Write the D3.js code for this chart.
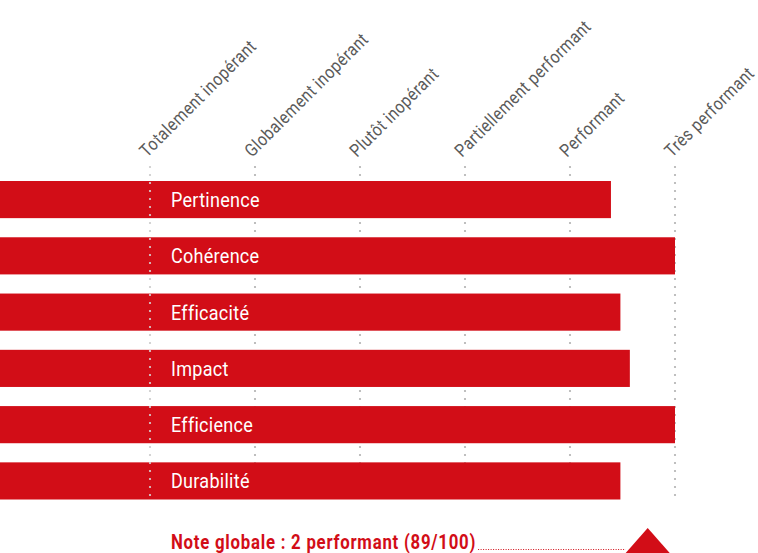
<!DOCTYPE html>
<html><head><meta charset="utf-8">
<script src="https://cdn.jsdelivr.net/npm/d3@7"></script>
<style>
html,body{margin:0;padding:0;background:#fff;}
svg text{font-family:Roboto,"Noto Sans",sans-serif;}
</style></head>
<body>
<svg id="chart" width="758" height="553"></svg>
<script>
const levels = ["Totalement inopérant","Globalement inopérant","Plutôt inopérant","Partiellement performant","Performant","Très performant"];
const criteria = ["Pertinence","Cohérence","Efficacité","Impact","Efficience","Durabilité"];
const scores = [4.39, 5.0, 4.48, 4.57, 5.0, 4.48];
const noteLabel = "Note globale : 2 performant (89/100)";
const noteMarker = 4.74;

const svg = d3.select("#chart");
const red = "#d20d17";
const narrow = 0.86;
const x = d3.scaleLinear().domain([0, 5]).range([150, 675]);
const y = d3.scaleBand().domain(criteria).range([181, 499.5]).paddingInner(0.34).paddingOuter(0);
const gridTop = 165, gridBottom = 499;

// gridlines (behind bars)
const grid = svg.append("g");
levels.forEach((l, i) => {
  const gx = x(i);
  const ys = d3.range(gridTop + 2, gridBottom, 8);
  grid.selectAll(null).data(ys).enter().append("circle")
    .attr("cx", gx).attr("cy", d => d).attr("r", 1.1).attr("fill", "#b0b0b0");
});

// level labels
svg.append("g").selectAll("text").data(levels).enter().append("text")
  .attr("transform", (d, i) => `translate(${x(i) - 3},${158}) rotate(-45) scale(${narrow},1)`)
  .attr("font-size", 18).attr("letter-spacing", 0.55).attr("fill", "#5a5a5a")
  .text(d => d);

// bars
svg.append("g").selectAll("rect").data(criteria).enter().append("rect")
  .attr("x", 0).attr("y", d => y(d))
  .attr("width", (d, i) => x(scores[i]))
  .attr("height", y.bandwidth())
  .attr("fill", red);

// first gridline over bars
svg.append("g").selectAll("circle").data(d3.range(gridTop + 2, gridBottom, 8)).enter().append("circle")
  .attr("cx", x(0)).attr("cy", d => d).attr("r", 1.1).attr("fill", "#d9d9d9");

// bar labels
svg.append("g").selectAll("text").data(criteria).enter().append("text")
  .attr("transform", d => `translate(${x(0) + 21},${y(d) + y.bandwidth() / 2 + 7.5}) scale(${narrow},1)`)
  .attr("font-size", 21).attr("letter-spacing", 0.3).attr("fill", "#fff").text(d => d);

// note
const ns = 0.84;
const note = svg.append("text")
  .attr("transform", `translate(171,548.5) scale(${ns},1)`)
  .attr("font-size", 20).attr("letter-spacing", 0.9).attr("font-weight", "bold").attr("fill", red).text(noteLabel);
const nw = note.node().getComputedTextLength() * ns;
const mx = x(noteMarker);
svg.append("line").attr("x1", 171 + nw + 2).attr("x2", mx - 22)
  .attr("y1", 549.5).attr("y2", 549.5).attr("stroke", red).attr("stroke-width", 1)
  .attr("stroke-dasharray", "1,1.5");
svg.append("path").attr("d", `M${mx - 22},553 L${mx},528 L${mx + 22},553 Z`).attr("fill", red);
</script>
</body></html>
